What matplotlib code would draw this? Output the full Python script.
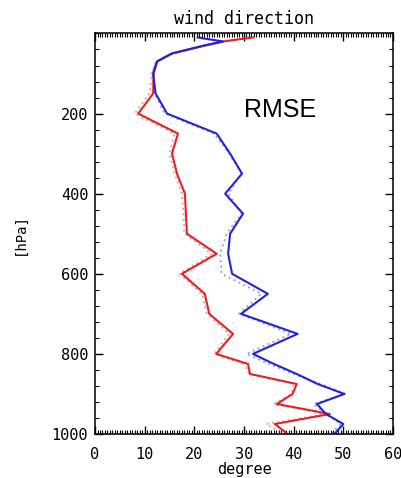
import numpy as np
import matplotlib
matplotlib.use("Agg")
import matplotlib.pyplot as plt
from matplotlib.ticker import MultipleLocator, AutoMinorLocator

# pressure levels [hPa]
levels = [10, 20, 30, 50, 70, 100, 150, 200, 250, 300, 350, 400, 450, 500, 550,
          600, 650, 700, 750, 800, 825, 850, 875, 900, 925, 950, 975, 1000]

# RMSE wind direction [degree]
red_solid = [31.8, 25.8, 22.1, 15.5, 12.5, 11.8, 11.7, 8.7, 16.7, 15.5, 16.5, 18.1, 18.3, 18.5, 24.5,
             17.5, 22.1, 23.0, 27.8, 24.4, 30.8, 31.2, 40.6, 39.8, 36.6, 47.3, 36.2, 38.8]
red_dot = [31.0, 25.5, 21.8, 15.3, 12.2, 11.4, 11.0, 8.0, 16.0, 15.0, 16.0, 17.5, 17.8, 18.0, 23.5,
           17.0, 21.5, 22.5, 27.0, 24.0, 30.0, 31.0, 40.0, 39.5, 36.0, 46.5, 34.5, 38.0]
blue_solid = [20.7, 25.8, 22.1, 15.5, 12.5, 11.7, 12.2, 14.5, 24.5, 27.2, 29.6, 26.2, 29.8, 27.2, 26.8,
              27.6, 34.8, 29.4, 40.8, 31.8, 36.0, 40.6, 44.8, 50.2, 44.7, 46.5, 50.0, 48.2]
blue_dot = [20.5, 25.5, 21.8, 15.3, 12.3, 11.5, 12.0, 14.0, 24.0, 27.0, 29.5, 26.8, 29.5, 26.5, 25.2,
            25.5, 33.5, 29.0, 39.5, 30.5, 35.0, 40.0, 45.5, 50.5, 44.0, 46.5, 49.5, 47.5]

red = '#e32226'
blue = '#2323d9'

fig = plt.figure(figsize=(4.01, 4.78), dpi=100)
ax = fig.add_axes([0.237, 0.092, 0.743, 0.838])

ax.plot(red_dot, levels, color=red, lw=1.3, ls=(0, (1, 2)), alpha=0.5)
ax.plot(blue_dot, levels, color=blue, lw=1.3, ls=(0, (1, 2)), alpha=0.5)
ax.plot(red_solid, levels, color=red, lw=1.5)
ax.plot(blue_solid, levels, color=blue, lw=1.5)

ax.set_xlim(0, 60)
ax.set_ylim(1000, 0)
ax.xaxis.set_major_locator(MultipleLocator(10))
ax.xaxis.set_minor_locator(MultipleLocator(0.5))
ax.yaxis.set_major_locator(MultipleLocator(200))
ax.yaxis.set_minor_locator(AutoMinorLocator(5))
ax.set_yticks([200, 400, 600, 800, 1000])

ax.tick_params(which='both', direction='in', top=True, right=True)
ax.tick_params(which='major', length=6, width=1)
ax.tick_params(which='minor', length=3, width=0.8)
ax.tick_params(axis='x', pad=9)
ax.tick_params(axis='y', pad=5)
for lab in ax.get_xticklabels() + ax.get_yticklabels():
    lab.set_family('DejaVu Sans Mono')
    lab.set_fontsize(11)
for s in ax.spines.values():
    s.set_linewidth(1.1)

ax.set_title('wind direction', family='DejaVu Sans Mono', fontsize=12, pad=7)
ax.set_xlabel('degree', family='DejaVu Sans Mono', fontsize=11, labelpad=0)
ax.set_ylabel('[hPa]', family='DejaVu Sans Mono', fontsize=10, labelpad=18)

ax.text(37.2, 192, 'RMSE', family='Liberation Sans', fontsize=18, ha='center', va='center')

fig.savefig('out.png', dpi=100)
